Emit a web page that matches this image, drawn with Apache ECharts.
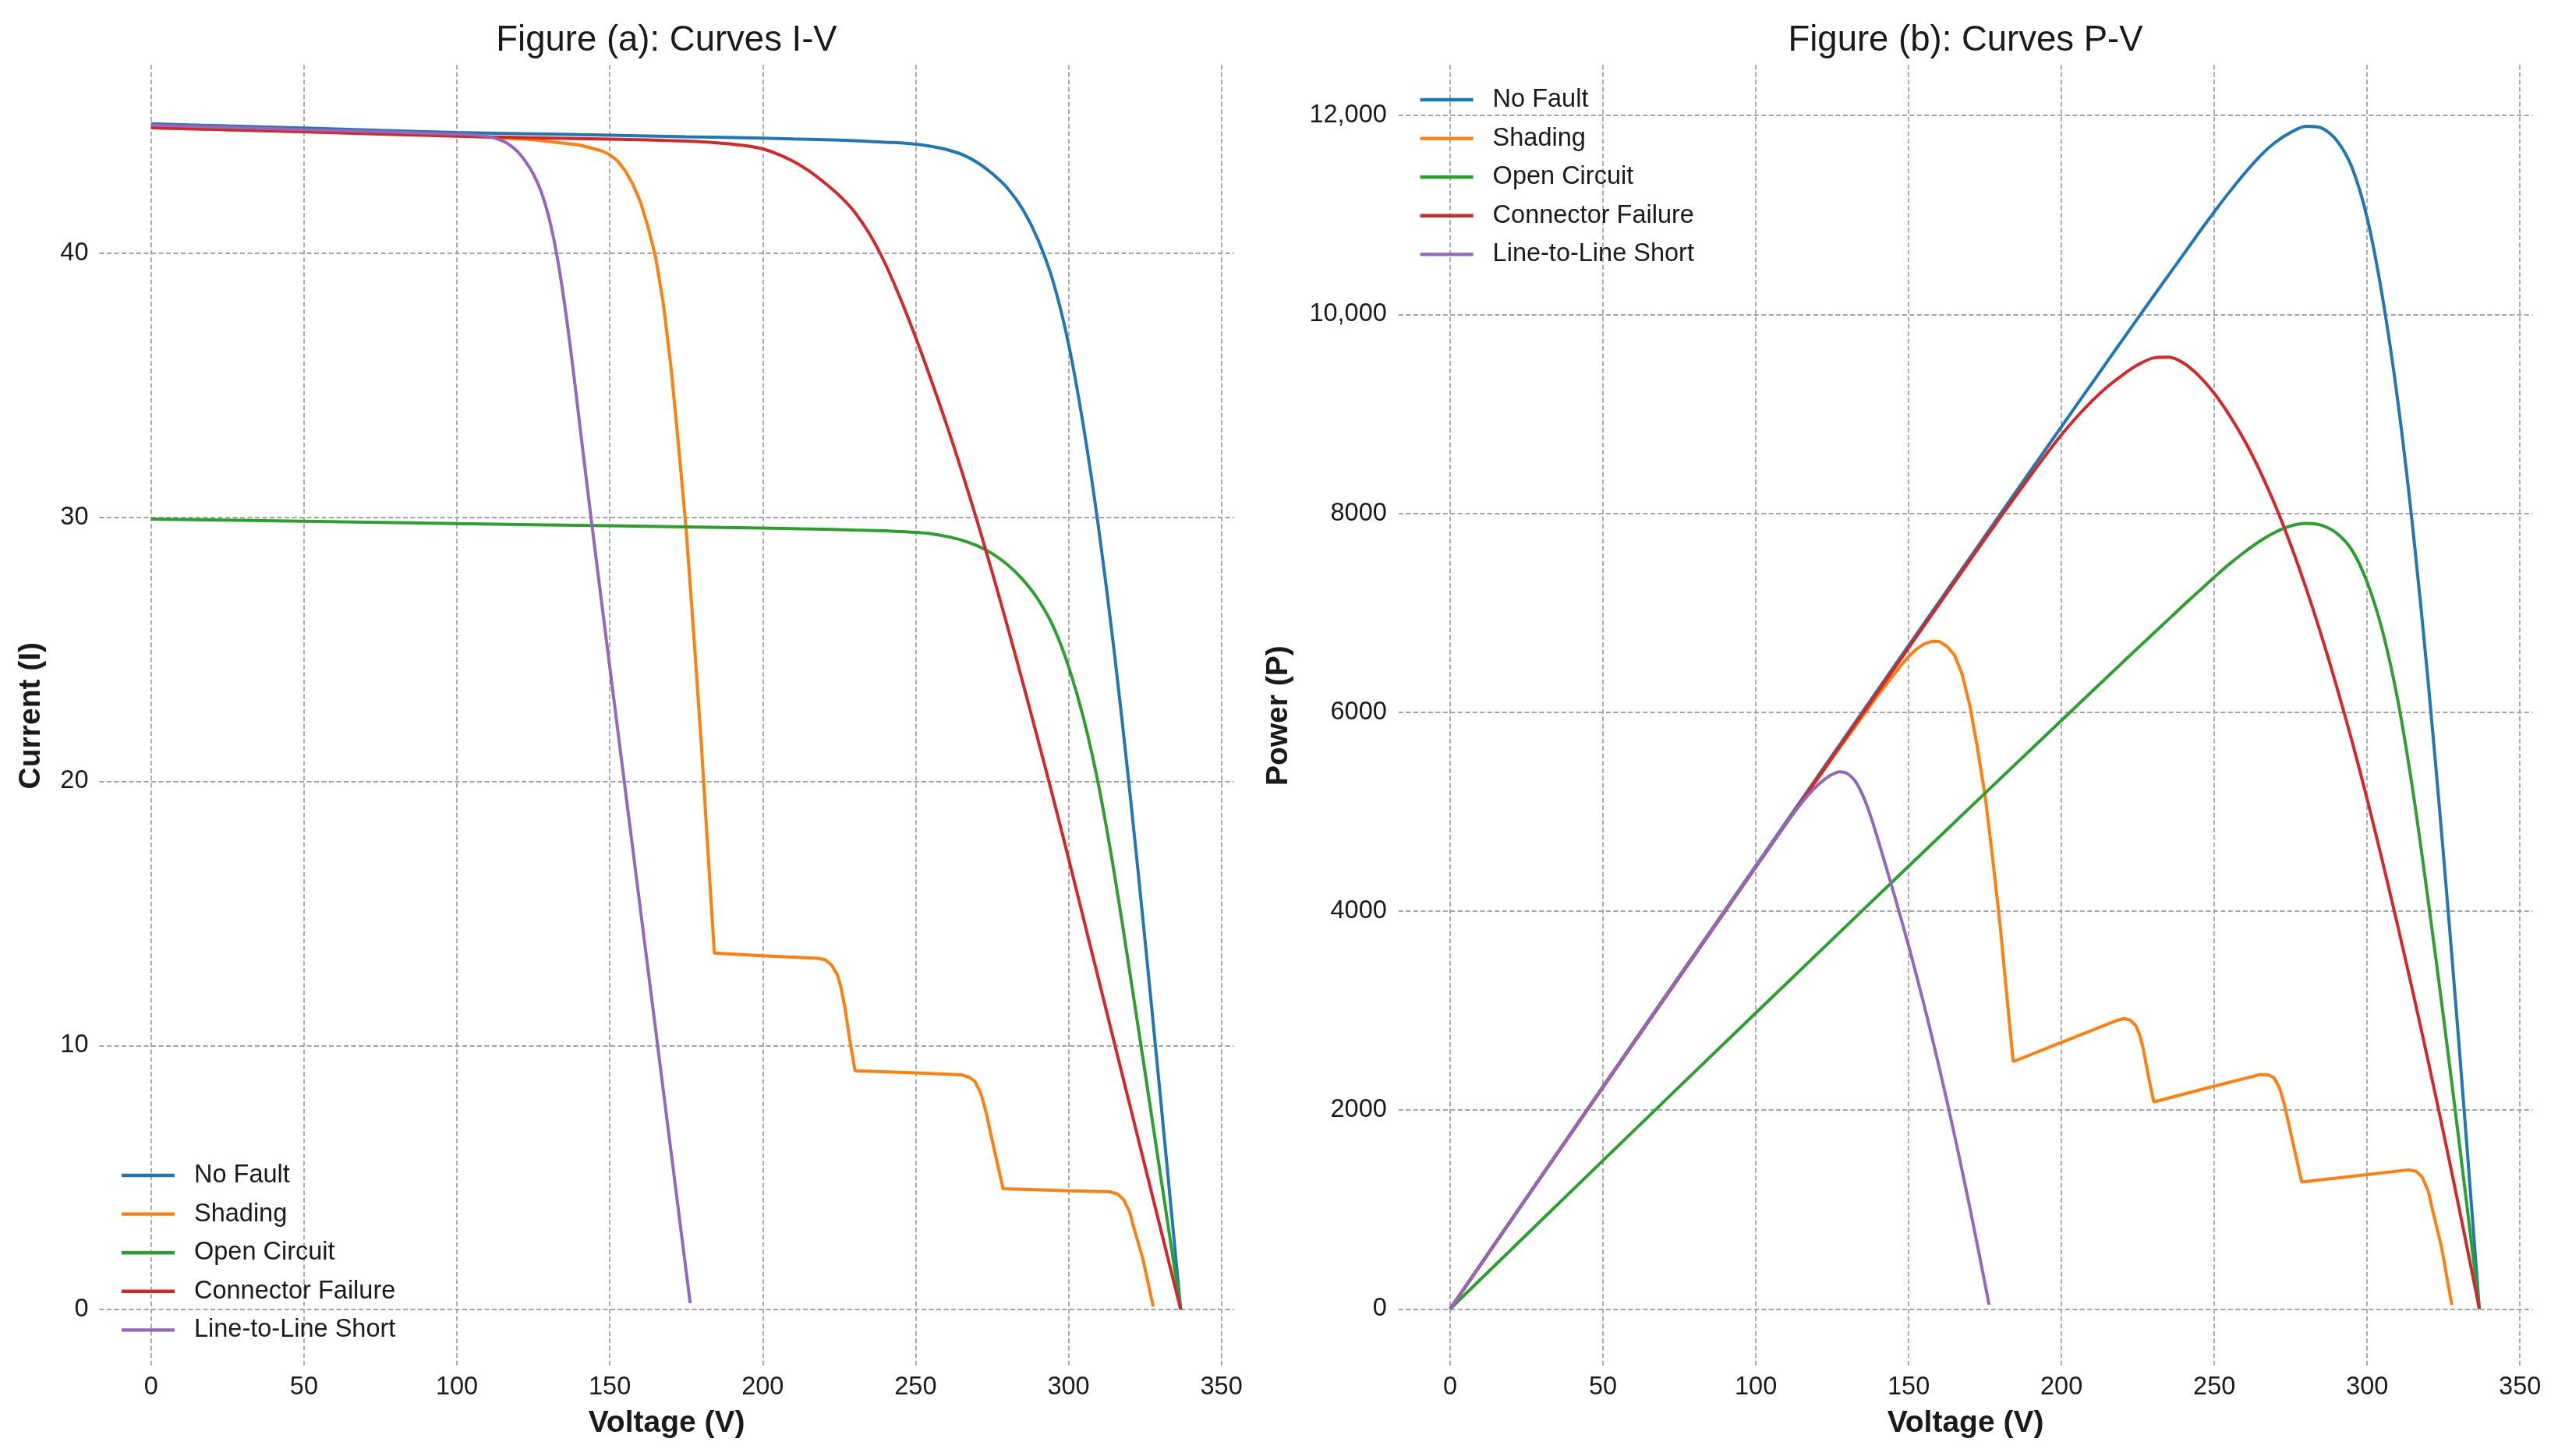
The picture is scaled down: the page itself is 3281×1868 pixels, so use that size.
<!DOCTYPE html>
<html>
<head>
<meta charset="utf-8">
<script src="https://cdn.jsdelivr.net/npm/echarts@6/dist/echarts.min.js"></script>
<style>
  html, body { margin: 0; padding: 0; background: #ffffff; }
  #chart { width: 3281px; height: 1868px; }
</style>
</head>
<body>
<div id="chart"></div>
<script>
// ---------- DATA ----------
const seriesNames = ['No Fault', 'Shading', 'Open Circuit', 'Connector Failure', 'Line-to-Line Short'];
const seriesColors = ['#1f77b4', '#ff7f0e', '#2ca02c', '#d62728', '#9467bd'];
const voltageTicks = [0, 50, 100, 150, 200, 250, 300, 350];
const currentTicks = [0, 10, 20, 30, 40];
const powerTicks = [0, 2000, 4000, 6000, 8000, 10000, 12000];

// No Fault
const noFaultV = [0, 25, 50, 75, 100, 125, 150, 175, 200, 210, 220, 230, 240, 245, 250, 255, 260, 265, 270, 275, 280, 285, 290, 295, 300, 305, 310, 315, 320, 325, 330, 335, 336.7];
const noFaultI = [44.9, 44.82, 44.74, 44.65, 44.57, 44.52, 44.47, 44.41, 44.36, 44.33, 44.3, 44.26, 44.2, 44.18, 44.13, 44.05, 43.93, 43.75, 43.45, 43.02, 42.47, 41.67, 40.52, 38.92, 36.57, 33.37, 29.47, 24.87, 19.67, 14.02, 8.12, 2.07, 0];
const noFaultP = [0, 1120.5, 2237, 3348.8, 4457, 5565, 6670.5, 7771.8, 8872, 9309.3, 9746, 10179.8, 10608, 10824.1, 11032.5, 11232.8, 11421.8, 11593.8, 11731.5, 11830.5, 11891.6, 11876, 11750.8, 11481.4, 10971, 10177.9, 9135.7, 7834.1, 6294.4, 4556.5, 2679.6, 693.5, 0];

// Shading
const shadingV = [0, 50, 100, 125, 140, 145, 147.5, 150, 152.5, 155, 157.5, 160, 162.5, 165, 167.5, 170, 172.5, 175, 177.5, 180, 182.5, 184.2, 200, 218, 220.5, 222.5, 224.4, 225.6, 226.8, 228.5, 230.2, 250, 265, 267.5, 269.5, 271.3, 272.9, 275.7, 278.6, 300, 313.5, 316, 318, 320, 321.4, 324.3, 327.7];
const shadingI = [44.75, 44.6, 44.45, 44.3, 44.1, 43.95, 43.87, 43.73, 43.5, 43.13, 42.62, 41.95, 41.0, 39.85, 38.1, 35.7, 32.7, 29.5, 25.5, 21.3, 16.6, 13.5, 13.4, 13.3, 13.24, 13.05, 12.68, 12.2, 11.5, 10.2, 9.04, 8.96, 8.89, 8.8, 8.63, 8.2, 7.55, 6.07, 4.58, 4.5, 4.46, 4.38, 4.17, 3.7, 3.09, 1.93, 0.12];
const shadingP = [0, 2230, 4445, 5537.5, 6174, 6372.8, 6470.8, 6559.5, 6633.8, 6685.2, 6712.7, 6712, 6662.5, 6575.3, 6381.8, 6069, 5640.8, 5162.5, 4526.3, 3834, 3029.5, 2486.7, 2680, 2899.4, 2919.4, 2903.6, 2845.4, 2752.3, 2608.2, 2330.7, 2081.0, 2240, 2355.9, 2354, 2325.8, 2224.7, 2060.4, 1673.5, 1276.0, 1350, 1398.2, 1384.1, 1326.1, 1184, 993.1, 625.9, 39.3];

// Open Circuit
const openV = [0, 50, 100, 150, 200, 220, 230, 240, 245, 250, 255, 260, 265, 270, 275, 280, 285, 290, 295, 300, 305, 310, 315, 320, 325, 330, 335, 336.7];
const openI = [29.93, 29.85, 29.76, 29.68, 29.59, 29.55, 29.52, 29.49, 29.46, 29.43, 29.38, 29.28, 29.14, 28.93, 28.63, 28.21, 27.65, 26.9, 25.87, 24.36, 22.36, 19.76, 16.51, 12.81, 9.01, 5.16, 1.31, 0];
const openP = [0, 1492.5, 2976, 4452, 5918, 6501, 6789.6, 7077.6, 7217.7, 7357.5, 7491.9, 7612.8, 7722.1, 7811.1, 7873.3, 7898.8, 7880.3, 7801, 7631.7, 7308, 6819.8, 6125.6, 5200.7, 4099.2, 2928.3, 1702.8, 438.9, 0];

// Connector Failure
const connV = [0, 50, 100, 150, 175, 180, 185, 190, 195, 200, 205, 210, 215, 220, 225, 230, 235, 240, 245, 250, 255, 260, 265, 270, 275, 280, 285, 290, 295, 300, 305, 310, 315, 320, 325, 330, 335, 336.7];
const connI = [44.75, 44.6, 44.43, 44.32, 44.25, 44.22, 44.18, 44.13, 44.06, 43.95, 43.75, 43.48, 43.13, 42.69, 42.19, 41.57, 40.72, 39.62, 38.29, 36.82, 35.23, 33.56, 31.78, 29.91, 27.94, 25.89, 23.77, 21.59, 19.37, 17.09, 14.76, 12.43, 10.1, 7.77, 5.44, 3.11, 0.79, 0];
const connP = [0, 2230, 4443, 6648, 7743.8, 7959.6, 8173.3, 8384.7, 8591.7, 8790, 8968.8, 9130.8, 9273, 9391.8, 9492.8, 9561.1, 9569.2, 9508.8, 9381.1, 9205, 8983.7, 8725.6, 8421.7, 8075.7, 7683.5, 7249.2, 6774.5, 6261.1, 5714.2, 5127, 4501.8, 3853.3, 3181.5, 2486.4, 1768, 1026.3, 264.7, 0];

// Line-to-Line Short
const shortV = [0, 50, 100, 110, 115, 117.5, 120, 122.5, 125, 127.5, 130, 132.5, 135, 137.5, 140, 142.5, 145, 150, 155, 160, 165, 170, 175, 176.3];
const shortI = [44.85, 44.68, 44.51, 44.42, 44.25, 44.08, 43.83, 43.47, 43.0, 42.35, 41.4, 40.05, 38.25, 36.08, 33.68, 31.28, 28.93, 24.33, 19.75, 15.17, 10.59, 6.01, 1.43, 0.24];
const shortP = [0, 2234, 4451, 4886.2, 5088.8, 5179.4, 5259.6, 5325.1, 5375, 5399.6, 5382, 5306.6, 5163.8, 4961, 4715.2, 4457.4, 4194.9, 3649.5, 3061.3, 2427.2, 1747.4, 1021.7, 250.3, 42.3];

// ---------- BUILD ----------
const FONT = '"Liberation Sans", Arial, Helvetica, sans-serif';
const TXT = '#1a1a1a';
const seriesSmooth = [0.3, false, 0.3, 0.3, 0.3];

function pairs(xs, ys) { return xs.map((x, i) => [x, ys[i]]); }

const ivSets = [[noFaultV, noFaultI], [shadingV, shadingI], [openV, openI], [connV, connI], [shortV, shortI]];
const pvSets = [[noFaultV, noFaultP], [shadingV, shadingP], [openV, openP], [connV, connP], [shortV, shortP]];

const splitLine = { show: true, lineStyle: { color: '#a3a3a3', width: 1.8, type: [6, 3.5] } };

function xAxisFor(gi) {
  return {
    type: 'value', gridIndex: gi, min: -16.9, max: 354.1,
    axisLine: { show: false },
    axisTick: { show: false, customValues: voltageTicks },
    axisLabel: { customValues: voltageTicks, fontSize: 32.5, fontFamily: FONT, color: TXT, margin: 11 },
    splitLine: splitLine,
    name: 'Voltage (V)', nameLocation: 'middle', nameGap: 54,
    nameTextStyle: { fontSize: 39, fontWeight: 'bold', fontFamily: FONT, color: TXT }
  };
}

function fmtPower(v) {
  const s = String(v);
  return v >= 10000 ? s.replace(/\B(?=(\d{3})+(?!\d))/g, ',') : s;
}

function makeSeries(sets, axisIdx) {
  return sets.map((d, k) => ({
    name: seriesNames[k], type: 'line', xAxisIndex: axisIdx, yAxisIndex: axisIdx,
    data: pairs(d[0], d[1]), showSymbol: false, symbol: 'none',
    smooth: seriesSmooth[k],
    color: seriesColors[k], lineStyle: { width: 4, color: seriesColors[k] }, animation: false
  }));
}
const series = makeSeries(ivSets, 0).concat(makeSeries(pvSets, 1));

const legendBase = {
  orient: 'vertical', padding: 0, itemWidth: 68, itemHeight: 4.4, itemGap: 13.6,
  icon: 'rect', data: seriesNames,
  textStyle: { fontSize: 32.5, lineHeight: 36, fontFamily: FONT, color: TXT, padding: [0, 0, 0, 20] }
};

const option = {
  backgroundColor: '#ffffff',
  animation: false,
  graphic: [
    { type: 'text', x: 855, y: 52, style: { text: 'Figure (a): Curves I-V', font: '45.5px ' + FONT, fill: TXT, align: 'center', verticalAlign: 'middle', textAlign: 'center', textVerticalAlign: 'middle' } },
    { type: 'text', x: 2521, y: 52, style: { text: 'Figure (b): Curves P-V', font: '45.5px ' + FONT, fill: TXT, align: 'center', verticalAlign: 'middle', textAlign: 'center', textVerticalAlign: 'middle' } }
  ],
  grid: [
    { left: 127.5, top: 83.3, width: 1455.2, height: 1669.7 },
    { left: 1793.8, top: 83.3, width: 1454.5, height: 1669.7 }
  ],
  legend: [
    Object.assign({}, legendBase, { left: 156, top: 1490 }),
    Object.assign({}, legendBase, { left: 1821.6, top: 110 })
  ],
  xAxis: [xAxisFor(0), xAxisFor(1)],
  yAxis: [
    {
      type: 'value', gridIndex: 0, min: -2.15, max: 47.13,
      axisLine: { show: false },
      axisTick: { show: false, customValues: currentTicks },
      axisLabel: { customValues: currentTicks, fontSize: 32.5, fontFamily: FONT, color: TXT, margin: 14 },
      splitLine: splitLine,
      name: 'Current (I)', nameLocation: 'middle', nameGap: 68,
      nameTextStyle: { fontSize: 39, fontWeight: 'bold', fontFamily: FONT, color: TXT }
    },
    {
      type: 'value', gridIndex: 1, min: -578, max: 12509,
      axisLine: { show: false },
      axisTick: { show: false, customValues: powerTicks },
      axisLabel: { customValues: powerTicks, fontSize: 32.5, fontFamily: FONT, color: TXT, margin: 15, formatter: fmtPower },
      splitLine: splitLine,
      name: 'Power (P)', nameLocation: 'middle', nameGap: 134,
      nameTextStyle: { fontSize: 39, fontWeight: 'bold', fontFamily: FONT, color: TXT }
    }
  ],
  series: series
};

const chart = echarts.init(document.getElementById('chart'), null, { renderer: 'canvas', width: 3281, height: 1868 });
chart.setOption(option);
</script>
</body>
</html>
